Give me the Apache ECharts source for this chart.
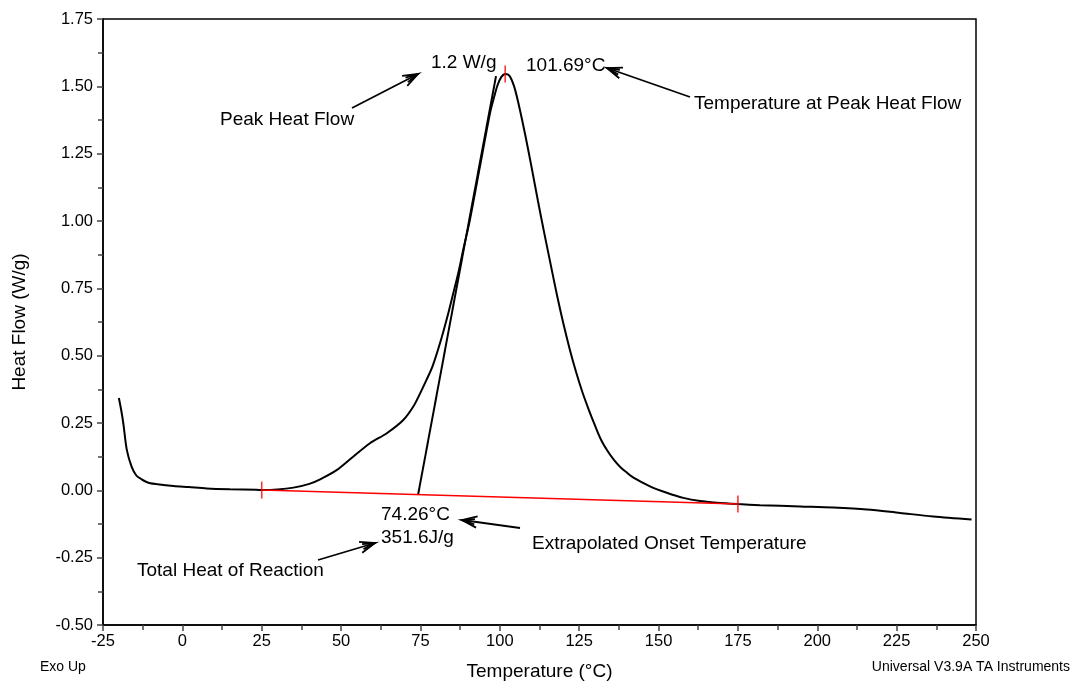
<!DOCTYPE html>
<html>
<head>
<meta charset="utf-8">
<script src="https://cdn.jsdelivr.net/npm/echarts@6/dist/echarts.min.js"></script>
<style>
html,body{margin:0;padding:0;background:#fff;}
#chart{width:1072px;height:681px;}
</style>
</head>
<body>
<div id="chart"></div>
<script>
// Temperature (°C) and heat flow (W/g)
const temps = [-20.0,-19.3,-18.6,-17.5,-16.0,-14.5,-13.4,-10.7,-6.0,-2.8,2.0,7.7,15.0,23.4,25.0,30.0,35.0,40.0,43.4,48.6,53.8,59.1,64.4,69.6,72.7,74.9,76.9,78.8,81.5,83.6,85.3,86.9,88.6,90.5,93.7,96.9,98.2,99.3,100.5,101.69,103.0,104.5,106.0,108.0,110.0,112.0,114.0,116.0,118.0,120.0,122.0,124.0,126.0,128.0,130.0,132.0,134.0,136.0,138.0,140.0,142.1,147.3,152.6,157.8,163.1,168.3,175.1,182.0,194.6,205.0,215.6,226.1,236.5,248.6];
const heatFlow = [0.343,0.300,0.249,0.150,0.088,0.055,0.045,0.028,0.020,0.016,0.012,0.007,0.004,0.002,0.001,0.003,0.010,0.024,0.041,0.075,0.125,0.175,0.212,0.261,0.310,0.360,0.410,0.460,0.560,0.650,0.730,0.806,0.900,1.000,1.200,1.400,1.460,1.505,1.535,1.546,1.540,1.500,1.430,1.320,1.200,1.075,0.955,0.840,0.725,0.620,0.525,0.440,0.365,0.300,0.240,0.185,0.145,0.112,0.086,0.066,0.047,0.015,-0.009,-0.028,-0.040,-0.046,-0.051,-0.055,-0.060,-0.064,-0.071,-0.084,-0.097,-0.108];
// Integration baseline (red) and onset tangent
const baselinePts = [[25, 0.001], [175, -0.051]];
const tangentPts = [[74.26, -0.016], [98.8, 1.538]];
const redTicks = [[25, 0.001], [175, -0.051], [101.69, 1.546]];
// Axis ticks
const xTicks = {min: -25, max: 250, interval: 25};
const yTicks = {min: -0.5, max: 1.75, interval: 0.25};

const chart = echarts.init(document.getElementById('chart'), null, {renderer: 'canvas'});
const FONT = 'Liberation Sans, Arial, sans-serif';

chart.setOption({
  animation: false,
  backgroundColor: '#fff',
  grid: {left: 103, right: 96, top: 19, bottom: 56, show: true, borderColor: '#000', borderWidth: 1.5,
         containLabel: false, outerBoundsMode: 'none'},
  xAxis: {
    type: 'value', min: xTicks.min, max: xTicks.max, interval: xTicks.interval,
    name: 'Temperature (°C)', nameLocation: 'middle', nameGap: 37,
    nameTextStyle: {fontFamily: FONT, fontSize: 19, color: '#000'},
    axisLine: {show: true, onZero: false, lineStyle: {color: '#000', width: 1.5}},
    axisTick: {show: true, length: 6, lineStyle: {color: '#444', width: 1.5}},
    minorTick: {show: true, splitNumber: 2, length: 5, lineStyle: {color: '#444', width: 1.5}},
    axisLabel: {fontFamily: FONT, fontSize: 16.5, color: '#000', margin: 8},
    splitLine: {show: false}
  },
  yAxis: {
    type: 'value', min: yTicks.min, max: yTicks.max, interval: yTicks.interval,
    name: 'Heat Flow (W/g)', nameLocation: 'middle', nameGap: 74, nameRotate: 90,
    nameTextStyle: {fontFamily: FONT, fontSize: 19, color: '#000'},
    axisLine: {show: true, onZero: false, lineStyle: {color: '#000', width: 1.5}},
    axisTick: {show: true, length: 6, lineStyle: {color: '#444', width: 1.5}},
    minorTick: {show: true, splitNumber: 2, length: 5, lineStyle: {color: '#444', width: 1.5}},
    axisLabel: {fontFamily: FONT, fontSize: 16.5, color: '#000', margin: 10, formatter: v => v.toFixed(2)},
    splitLine: {show: false}
  },
  series: [
    {
      type: 'line', data: temps.map((t, i) => [t, heatFlow[i]]),
      showSymbol: false, smooth: 0.3,
      lineStyle: {color: '#000', width: 2}, z: 3
    },
    {
      type: 'line', data: baselinePts, showSymbol: false,
      lineStyle: {color: '#ff0000', width: 1.6}, z: 4
    },
    {
      type: 'line', data: tangentPts, showSymbol: false,
      lineStyle: {color: '#000', width: 2}, z: 3
    },
    {
      type: 'scatter', data: redTicks, symbol: 'rect', symbolSize: [1.6, 17],
      itemStyle: {color: '#ff0000'}, z: 5
    }
  ]
});

// Annotations (text + arrows)
function arrow(x1, y1, x2, y2) {
  const ang = Math.atan2(y2 - y1, x2 - x1);
  const L = 16, a = 0.36;
  const b1 = [x2 - L * Math.cos(ang - a), y2 - L * Math.sin(ang - a)];
  const b2 = [x2 - L * Math.cos(ang + a), y2 - L * Math.sin(ang + a)];
  const L2 = 13, a2 = 0.2;
  const c1 = [x2 - L2 * Math.cos(ang - a2), y2 - L2 * Math.sin(ang - a2)];
  const c2 = [x2 - L2 * Math.cos(ang + a2), y2 - L2 * Math.sin(ang + a2)];
  const st = {stroke: '#000', lineWidth: 1.8, fill: null};
  return [
    {type: 'polyline', shape: {points: [[x1, y1], [x2, y2]]}, style: st, z: 10},
    {type: 'polyline', shape: {points: [b1, [x2, y2], b2]}, style: st, z: 10},
    {type: 'polyline', shape: {points: [c1, [x2, y2], c2]}, style: st, z: 10}
  ];
}
function txt(s, x, y, size, align) {
  return {type: 'text', x: x, y: y, z: 10,
    style: {text: s, fill: '#000', font: size + 'px ' + FONT, textAlign: align || 'left', textVerticalAlign: 'middle'}};
}
const g = [
  txt('1.2 W/g', 431, 63, 19),
  txt('101.69°C', 526, 66, 19),
  txt('Peak Heat Flow', 220, 120, 19),
  txt('Temperature at Peak Heat Flow', 694, 104, 19),
  txt('74.26°C', 381, 515, 19),
  txt('351.6J/g', 381, 538, 19),
  txt('Extrapolated Onset Temperature', 532, 544, 19),
  txt('Total Heat of Reaction', 137, 571, 19),
  txt('Exo Up', 40, 667, 14),
  txt('Universal V3.9A TA Instruments', 1070, 667, 14, 'right')
].concat(
  arrow(352, 108, 418, 74),
  arrow(690, 97, 607, 68),
  arrow(520, 528, 462, 520),
  arrow(318, 560, 375, 543)
);
chart.setOption({graphic: g});
</script>
</body>
</html>
